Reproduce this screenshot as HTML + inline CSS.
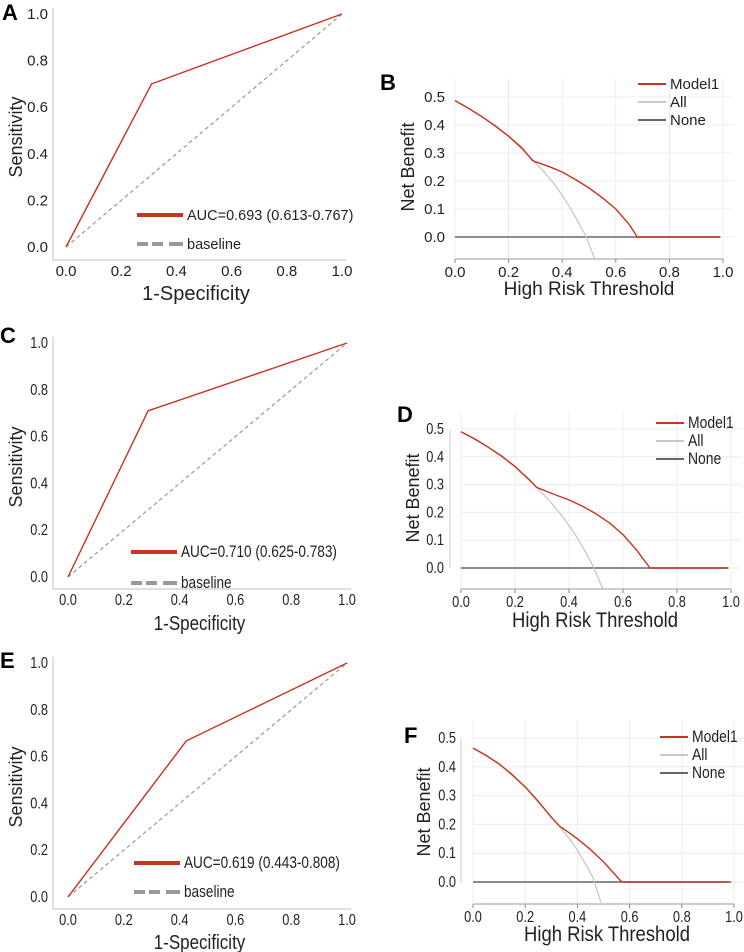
<!DOCTYPE html>
<html><head><meta charset="utf-8"><style>
body{margin:0;background:#fff}
svg{display:block;font-family:"Liberation Sans",sans-serif}
</style></head><body>
<svg id="s" width="744" height="952" viewBox="0 0 744 952"></svg>
<script>
// ROC data
const rocAFpr=[0,0.31,1], rocATpr=[0,0.70,1];
const rocCFpr=[0,0.287,1], rocCTpr=[0,0.71,1];
const rocEFpr=[0,0.424,1], rocETpr=[0,0.667,1];
const rocTicks=[0,0.2,0.4,0.6,0.8,1.0];
const rocTickLabels=["0.0","0.2","0.4","0.6","0.8","1.0"];
const aucLabels=["AUC=0.693 (0.613-0.767)","AUC=0.710 (0.625-0.783)","AUC=0.619 (0.443-0.808)"];
// DCA data
const dcaBT=[0,0.05,0.1,0.15,0.2,0.25,0.29,0.35,0.4,0.45,0.5,0.55,0.6,0.65,0.68,0.8,0.99];
const dcaBModel=[0.487,0.46,0.43,0.397,0.36,0.318,0.272,0.252,0.232,0.205,0.175,0.14,0.10,0.045,0,0,0];
const dcaBAllT=[0,0.1,0.2,0.29,0.33,0.37,0.41,0.45,0.49,0.52];
const dcaBAll=[0.487,0.43,0.36,0.275,0.235,0.19,0.135,0.07,0.0,-0.075];
const dcaDT=[0,0.05,0.1,0.15,0.2,0.25,0.28,0.35,0.4,0.45,0.5,0.55,0.6,0.65,0.7,0.8,0.99];
const dcaDModel=[0.49,0.465,0.435,0.403,0.365,0.32,0.29,0.263,0.245,0.222,0.195,0.162,0.12,0.065,0,0,0];
const dcaDAllT=[0,0.1,0.2,0.28,0.33,0.38,0.42,0.46,0.49,0.525];
const dcaDAll=[0.49,0.435,0.365,0.29,0.24,0.18,0.125,0.06,0.005,-0.075];
const dcaFT=[0,0.05,0.1,0.15,0.2,0.25,0.3,0.33,0.37,0.4,0.45,0.5,0.54,0.57,0.7,0.85,0.98];
const dcaFModel=[0.465,0.44,0.41,0.373,0.33,0.28,0.225,0.195,0.17,0.15,0.113,0.07,0.03,0,0,0,0];
const dcaFAllT=[0,0.1,0.2,0.33,0.37,0.4,0.43,0.46,0.49];
const dcaFAll=[0.465,0.41,0.33,0.195,0.15,0.11,0.065,0.015,-0.07];
const dcaXTicks=[0,0.2,0.4,0.6,0.8,1.0];
const dcaXLabels=["0.0","0.2","0.4","0.6","0.8","1.0"];
const dcaYTicks=[0,0.1,0.2,0.3,0.4,0.5];
const dcaYLabels=["0.0","0.1","0.2","0.3","0.4","0.5"];
const legendNames=["Model1","All","None"];

const S=document.getElementById('s');const NS='http://www.w3.org/2000/svg';
function el(t,a,p){const e=document.createElementNS(NS,t);for(const k in a)e.setAttribute(k,a[k]);(p||S).appendChild(e);return e;}
function txt(s,x,y,size,anchor,sx,extra){const e=el('text',Object.assign({transform:`translate(${x},${y}) scale(${sx},1)`,'font-size':size,'text-anchor':anchor,fill:'#222'},extra||{}));e.textContent=s;return e;}

function roc(c){
  const X=v=>c.x0+v*(c.x1-c.x0), Y=v=>c.y0-v*(c.y0-c.y1);
  const g=el('g',{});
  
  
  const p=txt(c.id.toUpperCase(),c.lx,c.ly,22,'start',1,{'font-weight':'bold',fill:'#000'});
  
  
  const ax=el('path',{d:`M${c.ax},${c.y1-6}V${c.ab}H${c.x1+4}`,stroke:'#ccc','stroke-width':1.2,fill:'none'},g);
  
  
  rocTicks.forEach((t,i)=>{
    const a=txt(rocTickLabels[i],X(t),c.ab+16,c.fs,'middle',c.sx);
    
    
    const b=txt(rocTickLabels[i],c.ax-5,Y(t)+5,c.fs,'end',c.sx);
    
    
  });
  const xt=txt('1-Specificity',(c.x0+c.x1)/2-8,c.xty,20,'middle',c.tsx);
  
  
  const yt=el('text',{transform:`translate(${c.ytx},${c.yty}) rotate(-90)`,'font-size':18,'text-anchor':'middle',fill:'#222'});yt.textContent='Sensitivity';
  
  
  const d=el('line',{x1:X(0),y1:Y(0),x2:X(1),y2:Y(1),stroke:'#999','stroke-width':1.2,'stroke-dasharray':'4,3'},g);
  
  
  const r=el('polyline',{points:c.fpr.map((f,i)=>X(f)+','+Y(c.tpr[i])).join(' '),stroke:'#c8321e','stroke-width':1.4,fill:'none'},g);
  
  
  const l1=el('line',{x1:c.legx,y1:c.leg1,x2:c.legx+46,y2:c.leg1,stroke:'#c8321e','stroke-width':4});
  
  
  const t1=txt(c.auc,c.legx+50,c.leg1+5,c.lfs,'start',c.lsx);
  
  
  const l2=el('line',{x1:c.legx,y1:c.leg2,x2:c.legx+46,y2:c.leg2,stroke:'#999','stroke-width':4,'stroke-dasharray':'11,4,11,6,3,0'});
  
  
  const t2=txt('baseline',c.legx+50,c.leg2+5,c.lfs,'start',c.lsx);
  
  
}
function dca(c){
  const X=v=>c.x0+v*(c.x1-c.x0), Y=v=>c.y0-v*(c.y0-c.y5)/0.5;
  const g=el('g',{});
  
  
  const p=txt(c.id.toUpperCase(),c.lx,c.ly,22,'start',1,{'font-weight':'bold',fill:'#000'});
  
  
  dcaXTicks.forEach((t,i)=>{
    const gl=el('line',{x1:X(t),y1:c.y5-18,x2:X(t),y2:c.ab,stroke:'#ececec'},g);
    
    
    el('line',{x1:X(t),y1:c.ab,x2:X(t),y2:c.ab+4,stroke:'#888'},g);
    const a=txt(dcaXLabels[i],X(t),c.ab+18,c.fs,'middle',c.sx);
    
    
  });
  dcaYTicks.forEach((t,i)=>{
    const gl=el('line',{x1:c.x0,y1:Y(t),x2:c.x1+10,y2:Y(t),stroke:'#ececec'},g);
    
    
    const b=txt(dcaYLabels[i],c.yl,Y(t)+5,c.fs,'end',c.sx);
    
    
  });
  const ax=el('line',{x1:c.x0,y1:c.ab,x2:c.x1,y2:c.ab,stroke:'#999'},g);
  
  
  if(c.yax){const ya=el('line',{x1:c.yax,y1:Y(0.5),x2:c.yax,y2:Y(0),stroke:'#ccc'},g);
    
    }
  const xt=txt('High Risk Threshold',c.xtx,c.xty,c.tfs,'middle',c.tsx);
  
  
  const yt=el('text',{transform:`translate(${c.ytx},${c.yty}) rotate(-90)`,'font-size':18,'text-anchor':'middle',fill:'#222'});yt.textContent='Net Benefit';
  
  
  const n=el('line',{x1:X(0),y1:Y(0),x2:X(dcaXTicks[5]*0.99),y2:Y(0),stroke:'#666','stroke-width':1.4},g);
  
  
  const a=el('polyline',{points:c.allT.map((t,i)=>X(t)+','+Y(c.all[i])).join(' '),stroke:'#c8c8c8','stroke-width':1.3,fill:'none','stroke-linejoin':'round'},g);
  
  
  const m=el('polyline',{points:c.t.map((t,i)=>X(t)+','+Y(c.m[i])).join(' '),stroke:'#c8321e','stroke-width':1.4,fill:'none','stroke-linejoin':'round'},g);
  
  
  const cols=['#c8321e','#c8c8c8','#666'];
  legendNames.forEach((nm,i)=>{
    const y=c.legy+i*18;
    const l=el('line',{x1:c.legx,y1:y,x2:c.legx+28,y2:y,stroke:cols[i],'stroke-width':2});
    
    
    const t=txt(nm,c.legx+32,y+5,c.lfs,'start',c.lsx);
    
    
  });
}
roc({id:'a',x0:66,x1:342,y0:247,y1:14,ax:53,ab:260,fs:15,sx:1,tsx:1,lfs:14.5,lsx:1,lx:2,ly:20,xty:300,ytx:22,yty:137,legx:137,leg1:215,leg2:244,fpr:rocAFpr,tpr:rocATpr,auc:aucLabels[0]});
roc({id:'c',x0:68,x1:347,y0:577,y1:343,ax:53,ab:589,fs:16,sx:0.8,tsx:0.85,lfs:17,lsx:0.8,lx:0,ly:343,xty:630,ytx:22,yty:467,legx:131,leg1:552,leg2:583,fpr:rocCFpr,tpr:rocCTpr,auc:aucLabels[1]});
roc({id:'e',x0:68,x1:347,y0:897,y1:663,ax:53,ab:909,fs:16,sx:0.8,tsx:0.85,lfs:17,lsx:0.8,lx:0,ly:668,xty:949,ytx:22,yty:787,legx:134,leg1:863,leg2:892,fpr:rocEFpr,tpr:rocETpr,auc:aucLabels[2]});
dca({id:'b',x0:455,x1:723,y0:237,y5:97,ab:259,fs:15,sx:1,tfs:19,tsx:1,lfs:15,lsx:1,yl:445,lx:380,ly:90,xtx:589,xty:295,ytx:414,yty:167,legx:638,legy:84,t:dcaBT,m:dcaBModel,allT:dcaBAllT,all:dcaBAll});
dca({id:'d',x0:461,x1:731,y0:568,y5:429,ab:589,fs:16,sx:0.8,tfs:21,tsx:0.88,lfs:17,lsx:0.82,yl:444,yax:450,lx:397,ly:422,xtx:595,xty:627,ytx:419,yty:498,legx:656,legy:423,t:dcaDT,m:dcaDModel,allT:dcaDAllT,all:dcaDAll});
dca({id:'f',x0:473,x1:734,y0:882,y5:738,ab:904,fs:16,sx:0.8,tfs:21,tsx:0.88,lfs:17,lsx:0.82,yl:456,yax:461,lx:404,ly:743,xtx:607,xty:941,ytx:430,yty:812,legx:660,legy:737,t:dcaFT,m:dcaFModel,allT:dcaFAllT,all:dcaFAll});
</script>
</body></html>
